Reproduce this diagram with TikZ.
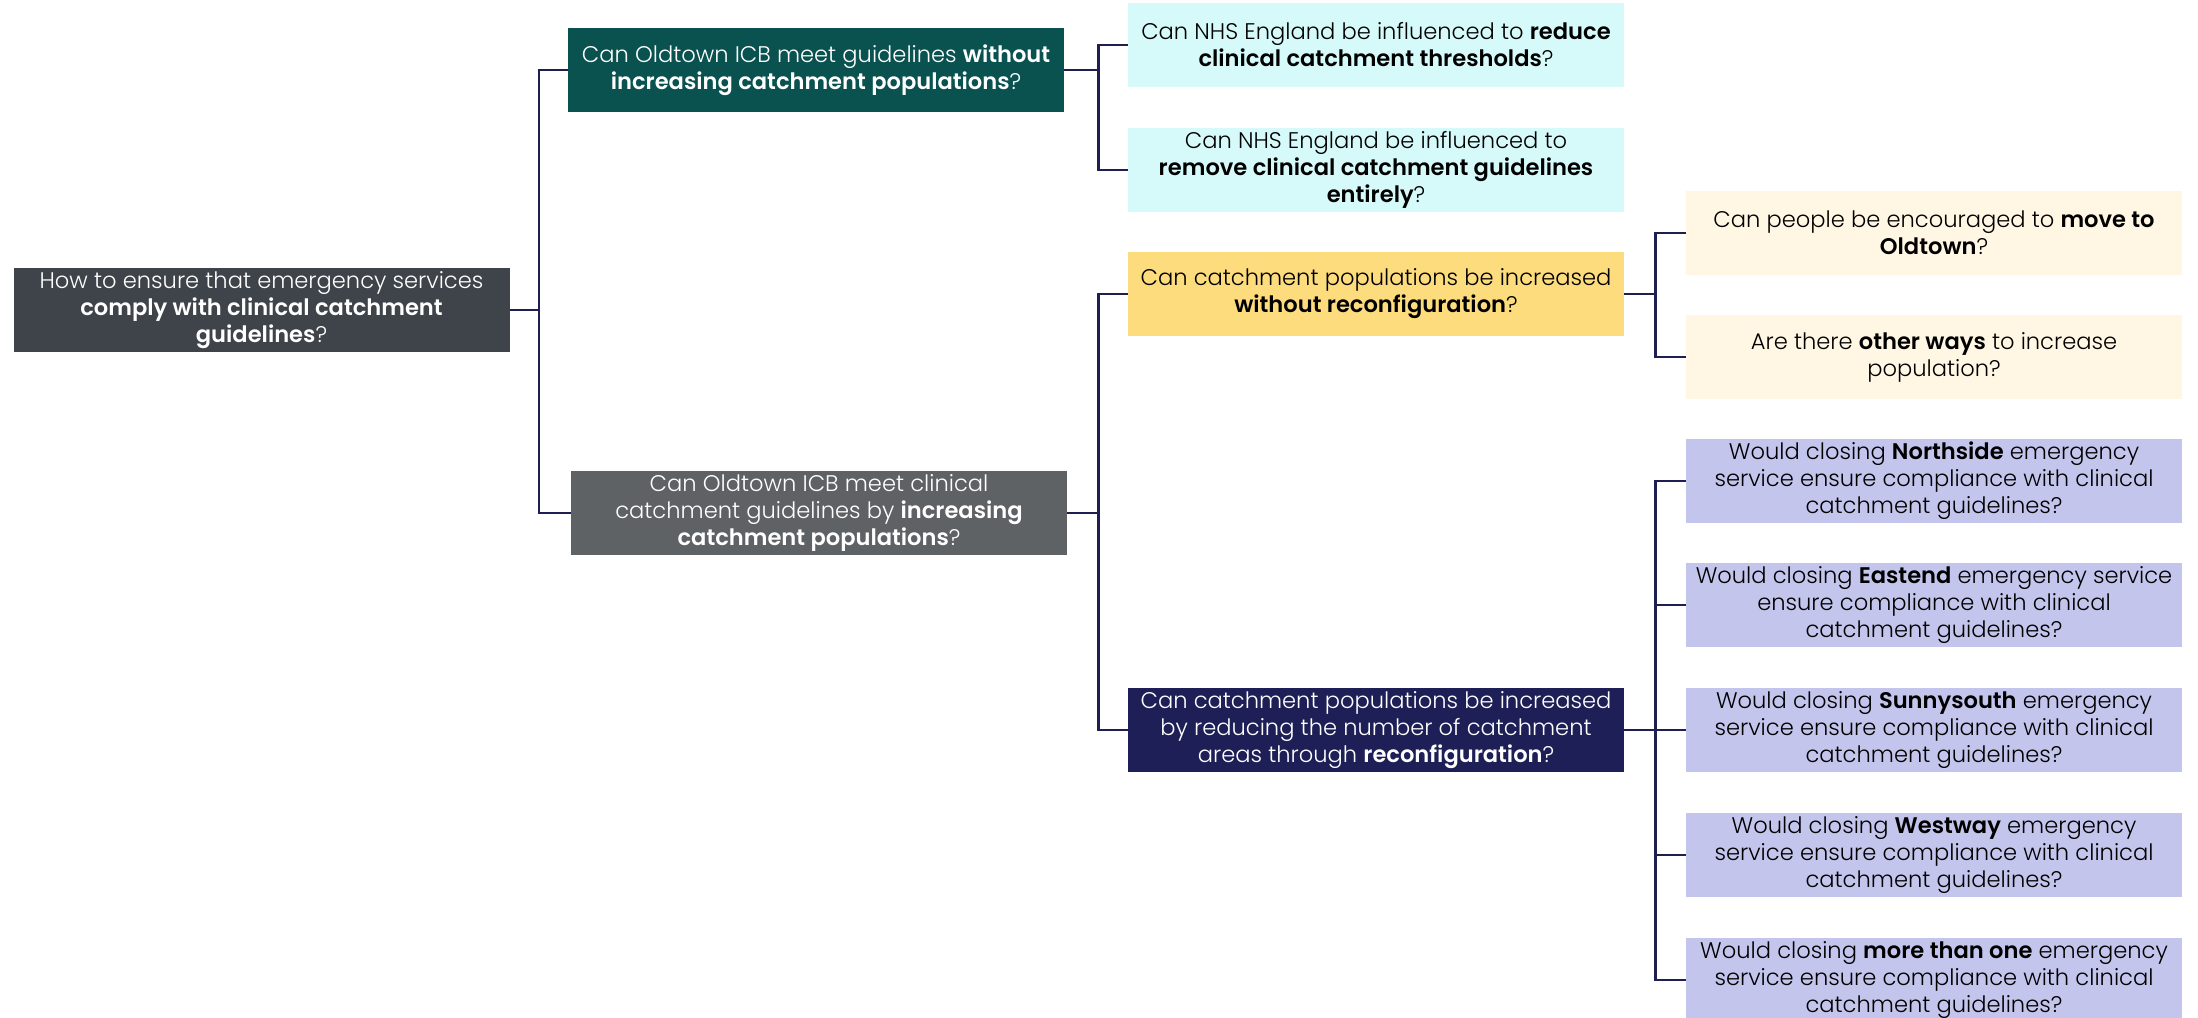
\documentclass[tikz,border=0pt]{standalone}
\usepackage{fontspec}
\setmainfont{Poppins}[UprightFont=* Light, BoldFont=* SemiBold]

\definecolor{rootgray}{HTML}{3E4449}
\definecolor{teal}{HTML}{0A5250}
\definecolor{midgray}{HTML}{5F6265}
\definecolor{lightcyan}{HTML}{D6F9FA}
\definecolor{sunyellow}{HTML}{FDDC7E}
\definecolor{navy}{HTML}{1E1F56}
\definecolor{cream}{HTML}{FFF7E4}
\definecolor{lavender}{HTML}{C4C5EC}
\definecolor{linkblue}{HTML}{1E1F50}

\tikzset{
  box/.style={minimum width=248pt, minimum height=42pt, inner sep=1pt,
    align=center, font=\fontsize{11.3}{13.5}\selectfont},
  darkbox/.style={box, text=white},
  lightbox/.style={box, text=black},
  link/.style={draw=linkblue, line width=1.4pt},
}

\begin{document}
\begin{tikzpicture}[x=0.5pt, y=-0.5pt]
      \useasboundingbox (0,0) rectangle (2198,1017) ;
      \clip (0,0) rectangle (2198,1017) ;
      % level 0
      \node[darkbox, fill=rootgray] (root) at (261.5,310)
        {How to ensure that emergency services\\
         \textbf{comply with clinical catchment}\\
         \textbf{guidelines}?} ;
      % level 1
      \node[darkbox, fill=teal] (without) at (816,70)
        {Can Oldtown ICB meet guidelines \textbf{without}\\
         \textbf{increasing catchment populations}?} ;
      \node[darkbox, fill=midgray] (increasing) at (819,513)
        {Can Oldtown ICB meet clinical\\
         catchment guidelines by \textbf{increasing}\\
         \textbf{catchment populations}?} ;
      % level 2
      \node[lightbox, fill=lightcyan] (reduce) at (1376,45)
        {Can NHS England be influenced to \textbf{reduce}\\
         \textbf{clinical catchment thresholds}?} ;
      \node[lightbox, fill=lightcyan] (remove) at (1376,170)
        {Can NHS England be influenced to\\
         \textbf{remove clinical catchment guidelines}\\
         \textbf{entirely}?} ;
      \node[lightbox, fill=sunyellow] (noreconf) at (1376,294)
        {Can catchment populations be increased\\
         \textbf{without reconfiguration}?} ;
      \node[darkbox, fill=navy] (reconf) at (1376,730)
        {Can catchment populations be increased\\
         by reducing the number of catchment\\
         areas through \textbf{reconfiguration}?} ;
      % level 3
      \node[lightbox, fill=cream] (moveto) at (1934,233)
        {Can people be encouraged to \textbf{move to}\\
         \textbf{Oldtown}?} ;
      \node[lightbox, fill=cream] (otherways) at (1934,357)
        {Are there \textbf{other ways} to increase\\
         population?} ;
      \node[lightbox, fill=lavender] (northside) at (1934,481)
        {Would closing \textbf{Northside} emergency\\
         service ensure compliance with clinical\\
         catchment guidelines?} ;
      \node[lightbox, fill=lavender] (eastend) at (1934,605)
        {Would closing \textbf{Eastend} emergency service\\
         ensure compliance with clinical\\
         catchment guidelines?} ;
      \node[lightbox, fill=lavender] (sunnysouth) at (1934,730)
        {Would closing \textbf{Sunnysouth} emergency\\
         service ensure compliance with clinical\\
         catchment guidelines?} ;
      \node[lightbox, fill=lavender] (westway) at (1934,855)
        {Would closing \textbf{Westway} emergency\\
         service ensure compliance with clinical\\
         catchment guidelines?} ;
      \node[lightbox, fill=lavender] (morethanone) at (1934,980)
        {Would closing \textbf{more than one} emergency\\
         service ensure compliance with clinical\\
         catchment guidelines?} ;
      % connectors
      \foreach \child in {without,increasing}
        \draw[link] (root.east) -- ++(29,0) |- (\child.west) ;
      \foreach \child in {reduce,remove}
        \draw[link] (without.east) -- ++(34,0) |- (\child.west) ;
      \foreach \child in {noreconf,reconf}
        \draw[link] (increasing.east) -- ++(31,0) |- (\child.west) ;
      \foreach \child in {moveto,otherways}
        \draw[link] (noreconf.east) -- ++(31,0) |- (\child.west) ;
      \foreach \child in {northside,eastend,sunnysouth,westway,morethanone}
        \draw[link] (reconf.east) -- ++(31,0) |- (\child.west) ;
    \end{tikzpicture}
\end{document}
